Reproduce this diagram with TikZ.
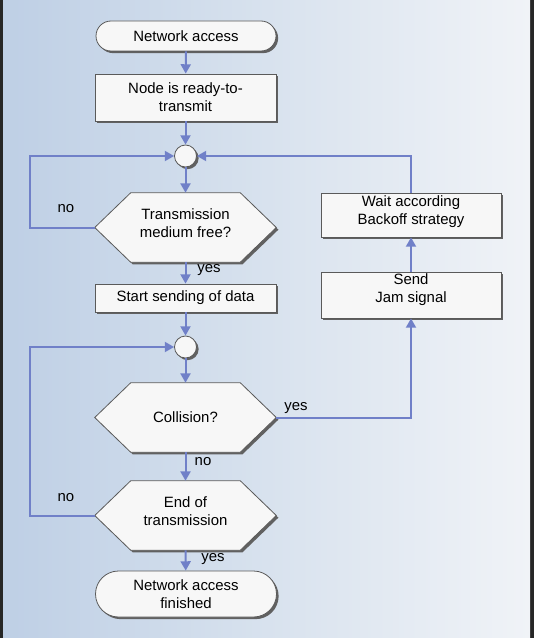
\documentclass[tikz,border=0pt]{standalone}
\usepackage{fontspec}
\setmainfont{Liberation Sans}
\usetikzlibrary{arrows.meta,shadows,shapes.misc}
\definecolor{arr}{RGB}{112,128,200}
\definecolor{edge}{RGB}{90,90,90}
\definecolor{bgL}{RGB}{190,207,229}
\definecolor{bgM}{RGB}{216,226,238}
\definecolor{bgR}{RGB}{240,243,247}
\definecolor{boxfill}{RGB}{247,247,247}
\tikzset{
  shd/.style={general shadow={shadow xshift=1.6pt,shadow yshift=-1.6pt,fill=black!62,draw=none}},
  txt/.style={font=\fontsize{11.2}{13.5}\selectfont,align=center,text=black},
  procbox/.style={txt,shape=rectangle,draw=edge,line width=0.6pt,fill=boxfill,shd,inner sep=0pt},
  termbox/.style={txt,shape=rounded rectangle,draw=edge,line width=0.6pt,fill=boxfill,shd,inner sep=0pt},
  hexanchor/.style={txt,shape=rectangle,draw=none,inner sep=0pt,minimum width=135.75pt,minimum height=51.75pt},
  hexline/.style={draw=edge,line width=0.6pt,fill=boxfill,shd},
  joint/.style={shape=circle,draw=edge,line width=0.6pt,fill=boxfill,shd,inner sep=0pt,minimum size=16.5pt},
  conn/.style={draw=arr,line width=1.5pt,-{Triangle[length=7pt,width=7.5pt]}},
  lbl/.style={font=\fontsize{11.2}{13.5}\selectfont,text=black,inner sep=0pt,anchor=base}
}
\newcommand{\hexdraw}[1]{%
  \path[hexline] (#1.west) -- ([xshift=27pt]#1.north west) -- ([xshift=-27pt]#1.north east) -- (#1.east) -- ([xshift=-27pt]#1.south east) -- ([xshift=27pt]#1.south west) -- cycle;}
\begin{document}
\begin{tikzpicture}[x=0.75pt,y=-0.75pt]
\useasboundingbox (0,0) rectangle (534,638);
\fill[black!85] (0,0) rectangle (534,638);
\shade[left color=bgL,right color=bgR,middle color=bgM] (3,0) rectangle (530,638);

% main column
\node[termbox,minimum width=135pt,minimum height=22.5pt] (na) at (186,36) {Network access};
\node[procbox,minimum width=135.75pt,minimum height=35.25pt] (rdy) at (185.5,97.5) {Node is ready-to-\\transmit};
\node[joint] (c1) at (185.5,156) {};
\node[hexanchor] (h1) at (185.5,227.5) {};
\hexdraw{h1}
\node[txt] (t1) at ([yshift=3pt]h1.center) {Transmission\\medium free?};
\node[procbox,minimum width=135.75pt,minimum height=21pt] (start) at (185.5,298) {Start sending of data};
\node[joint] (c2) at (185.5,347) {};
\node[hexanchor] (h2) at (185.5,417.5) {};
\hexdraw{h2}
\node[txt] (t2) at (h2) {Collision?};
\node[hexanchor] (h3) at (185.5,515.5) {};
\hexdraw{h3}
\node[txt] (t3) at ([yshift=3pt]h3.center) {End of\\transmission};
\node[termbox,minimum width=135.75pt,minimum height=34.5pt] (fin) at (186,594) {Network access\\finished};

% right column
\node[procbox,minimum width=135pt,minimum height=33pt] (wait) at (411,215) {};
\node[txt] (twait) at ([yshift=2.25pt]wait.center) {Wait according\\Backoff strategy};
\node[procbox,minimum width=135pt,minimum height=34.5pt] (send) at (411,295) {};
\node[txt] (tsend) at ([yshift=4pt]send.center) {Send\\Jam signal};

% loop corners
\coordinate (l1) at (30,227.5);
\coordinate (l2) at (30,515.5);

% connectors
\draw[conn] (na) -- (rdy);
\draw[conn] (rdy) -- (c1);
\draw[conn] (c1) -- (h1.north);
\draw[conn] (h1.south) -- (start);
\draw[conn] (start) -- (c2);
\draw[conn] (c2) -- (h2.north);
\draw[conn] (h2.south) -- (h3.north);
\draw[conn] (h3.south) -- (fin);
\draw[conn] (h1.west) -- (l1) |- (c1.west);
\draw[conn] (h3.west) -- (l2) |- (c2.west);
\draw[conn] (h2.east) -| (send.south);
\draw[conn] (send) -- (wait);
\draw[conn] (wait.north) |- (c1.east);

% labels
\node[lbl] (n1) at (66,212) {no};
\node[lbl] (y1) at (209,272) {yes};
\node[lbl] (y2) at (296,410) {yes};
\node[lbl] (n2) at (203,465) {no};
\node[lbl] (n3) at (66,501) {no};
\node[lbl] (y3) at (213,561) {yes};
\end{tikzpicture}
\end{document}
